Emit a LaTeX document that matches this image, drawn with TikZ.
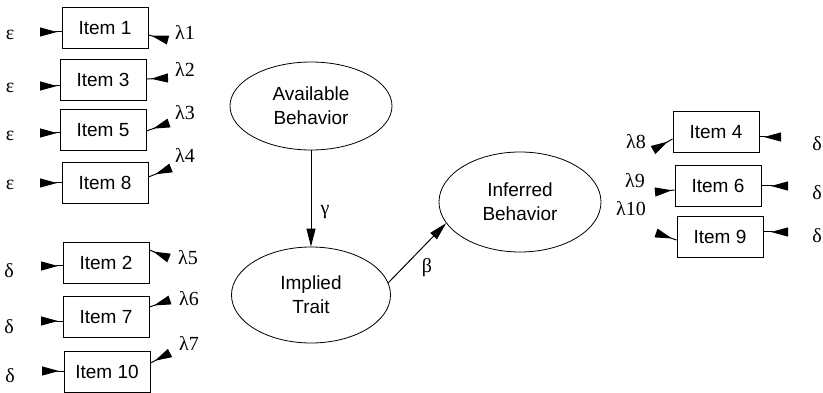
\documentclass[tikz,border=0pt]{standalone}
\usepackage{fontspec}
\setmainfont{Liberation Sans}
\newfontfamily\grk{Liberation Serif}
\usetikzlibrary{arrows.meta,shapes.geometric}

\tikzset{
	caja/.style={draw, line width=1pt, minimum width=86pt, minimum height=41pt, inner sep=0pt, font=\fontsize{19}{20}\selectfont},
	latente/.style={draw, line width=0.8pt, ellipse, inner sep=0pt, align=center, font=\fontsize{19}{24}\selectfont},
	letra/.style={inner sep=0pt, font=\grk\fontsize{20}{20}\selectfont},
	stub/.style={line width=1pt, -{Triangle[reversed,length=17pt,width=9pt]}},
	flecha/.style={line width=1pt, -{Triangle[length=18pt,width=9pt]}}
}

\begin{document}
\begin{tikzpicture}[x=1pt,y=-1pt]
	\useasboundingbox (0,0) rectangle (823,393);

	% Variables latentes
	\node[latente, minimum width=162pt, minimum height=88pt] (avail) at (311,106) {Available\\Behavior};
	\node[latente, minimum width=159pt, minimum height=96pt] (implied) at (311,295) {Implied\\Trait};
	\node[latente, minimum width=162pt, minimum height=100pt] (inferred) at (520,202) {Inferred\\Behavior};

	\draw[flecha] (avail) -- (implied);
	\draw[flecha] (implied.9) -- (inferred.196);
	\node[letra] (gamma) at (325,212) {γ};
	\node[letra] (beta) at (427,268) {β};

	% Items izquierda
	\node[caja] (item1) at (105,28) {Item 1};
	\node[caja] (item3) at (103,80) {Item 3};
	\node[caja] (item5) at (103,130) {Item 5};
	\node[caja] (item8) at (105,183) {Item 8};
	\node[caja] (item2) at (106,263) {Item 2};
	\node[caja] (item7) at (106,317) {Item 7};
	\node[caja] (item10) at (107,372) {Item 10};

	% Errores izquierda
	\node[letra] (e1) at (10,35) {ε};
	\node[letra] (e3) at (10,88) {ε};
	\node[letra] (e5) at (10,136) {ε};
	\node[letra] (e8) at (10,185) {ε};
	\node[letra] (d2) at (9,271) {δ};
	\node[letra] (d7) at (9,327) {δ};
	\node[letra] (d10) at (10,376) {δ};

	\coordinate (pe1) at (40,32);
	\coordinate (pe3) at (40,86);
	\coordinate (pe5) at (40,133);
	\coordinate (pe8) at (40,183);
	\coordinate (pd2) at (41,266);
	\coordinate (pd7) at (41,321);
	\coordinate (pd10) at (42,371);
	\draw[stub] (item1.west |- pe1) -- (pe1);
	\draw[stub] (item3.west |- pe3) -- (pe3);
	\draw[stub] (item5.west |- pe5) -- (pe5);
	\draw[stub] (item8.west |- pe8) -- (pe8);
	\draw[stub] (item2.west |- pd2) -- (pd2);
	\draw[stub] (item7.west |- pd7) -- (pd7);
	\draw[stub] (item10.west |- pd10) -- (pd10);

	% Cargas izquierda
	\coordinate (pl1) at (168,40);
	\coordinate (pl2) at (168,78);
	\coordinate (pl3) at (169,123);
	\coordinate (pl4) at (171,168);
	\coordinate (pl5) at (169,258);
	\coordinate (pl6) at (170,300);
	\coordinate (pl7) at (170,353);
	\draw[stub] (item1.east |- 0,35) -- (pl1);
	\draw[stub] (item3.east |- 0,79) -- (pl2);
	\draw[stub] (item5.east |- 0,131) -- (pl3);
	\draw[stub] (item8.east |- 0,177) -- (pl4);
	\draw[stub] (item2.east |- 0,250) -- (pl5);
	\draw[stub] (item7.east |- 0,307) -- (pl6);
	\draw[stub] (item10.east |- 0,363) -- (pl7);
	\node[letra] (l1) at (185,32) {λ1};
	\node[letra] (l2) at (185,69) {λ2};
	\node[letra] (l3) at (185,113) {λ3};
	\node[letra] (l4) at (185,155) {λ4};
	\node[letra] (l5) at (188,258) {λ5};
	\node[letra] (l6) at (189,299) {λ6};
	\node[letra] (l7) at (189,343) {λ7};

	% Items derecha
	\node[caja] (item4) at (716,132) {Item 4};
	\node[caja] (item6) at (718,186) {Item 6};
	\node[caja] (item9) at (720,237) {Item 9};

	\coordinate (pl8) at (653,150);
	\coordinate (pl9) at (655,192);
	\coordinate (pl10) at (656,233);
	\draw[stub] (item4.west |- 0,139) -- (pl8);
	\draw[stub] (item6.west |- 0,190) -- (pl9);
	\draw[stub] (item9.west |- 0,240) -- (pl10);
	\node[letra] (l8) at (636,142) {λ8};
	\node[letra] (l9) at (635,181) {λ9};
	\node[letra] (l10) at (631,209) {λ10};

	\coordinate (pd4) at (781,137);
	\coordinate (pd6) at (788,186);
	\coordinate (pd9) at (788,232);
	\draw[stub] (item4.east |- pd4) -- (pd4);
	\draw[stub] (item6.east |- pd6) -- (pd6);
	\draw[stub] (item9.east |- pd9) -- (pd9);
	\node[letra] (d4) at (817,144) {δ};
	\node[letra] (d6) at (817,193) {δ};
	\node[letra] (d9) at (817,236) {δ};
\end{tikzpicture}
\end{document}
